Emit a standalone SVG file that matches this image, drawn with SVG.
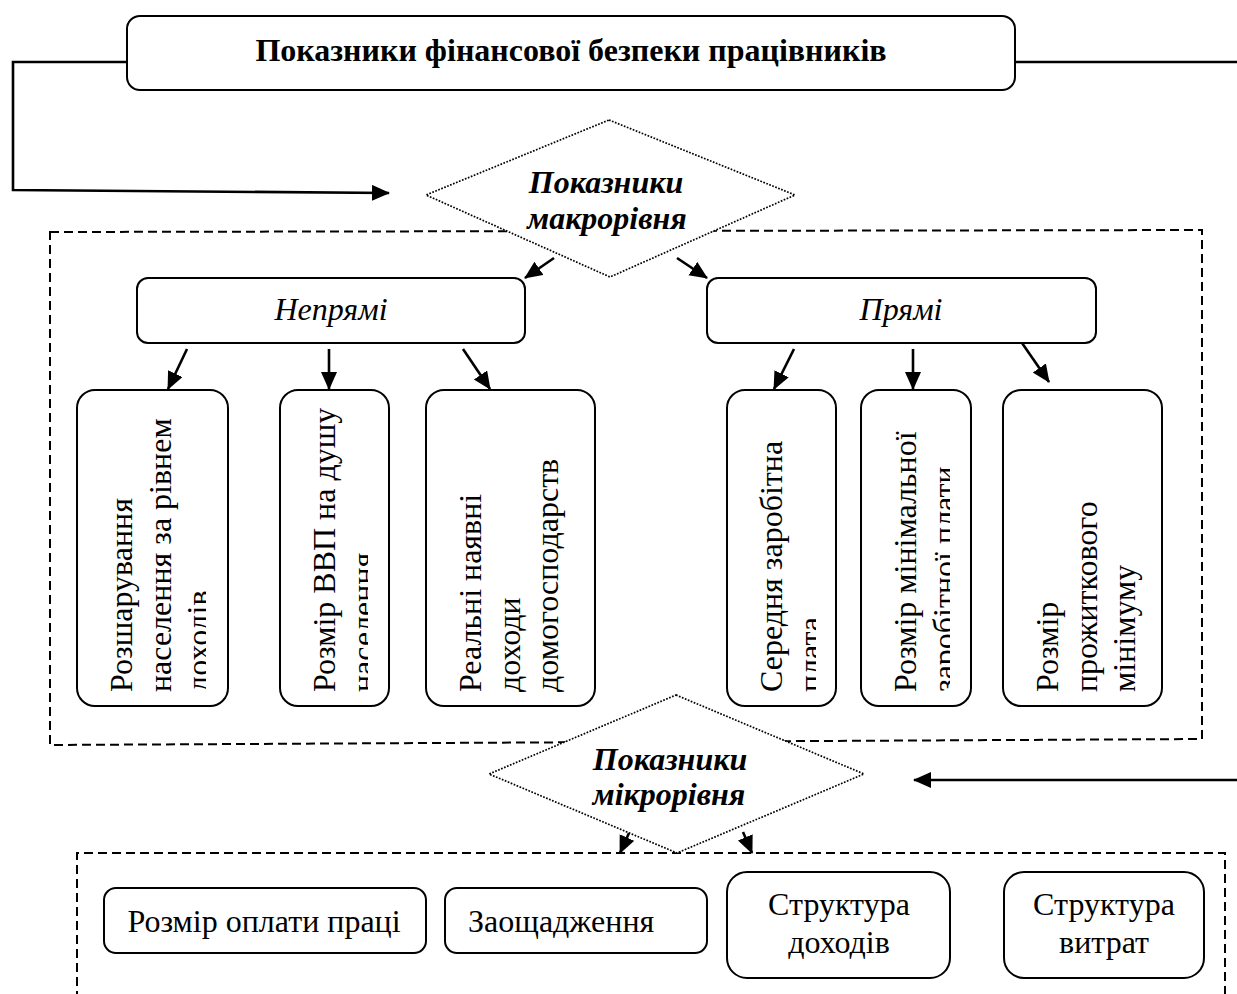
<svg xmlns="http://www.w3.org/2000/svg" width="1237" height="994" viewBox="0 0 1237 994">
  <style>
    text { font-family: "Liberation Serif", "Times New Roman", serif; font-size: 32px; fill: #000; }
    .title { font-weight: bold; }
    .diam-t { font-weight: bold; font-style: italic; }
    .ital { font-style: italic; }
    .box { fill: #fff; stroke: #000; stroke-width: 2; }
    .diamond { fill: #fff; stroke: #000; stroke-width: 1.7; stroke-dasharray: 1.7 1.5; }
    .frame { fill: none; stroke: #000; stroke-width: 2; stroke-dasharray: 9 5; }
    .link { fill: none; stroke: #000; stroke-width: 2.5; }
    .arrow { fill: none; stroke: #000; stroke-width: 2.6; marker-end: url(#head); }
  </style>
  <defs>
    <marker id="head" markerUnits="userSpaceOnUse" markerWidth="20" markerHeight="18" refX="17" refY="8" orient="auto">
      <path d="M0,0 L18,8 L0,16 Z" fill="#000"/>
    </marker>
    <clipPath id="clip1" clipPathUnits="userSpaceOnUse"><rect x="77" y="390" width="129" height="316"/></clipPath>
    <clipPath id="clip2" clipPathUnits="userSpaceOnUse"><rect x="280" y="390" width="88" height="316"/></clipPath>
    <clipPath id="clip4" clipPathUnits="userSpaceOnUse"><rect x="727" y="390" width="89" height="316"/></clipPath>
    <clipPath id="clip5" clipPathUnits="userSpaceOnUse"><rect x="861" y="390" width="89" height="316"/></clipPath>
  </defs>

  <rect x="0" y="0" width="1237" height="994" fill="#fff"/>

  <!-- dashed frames around the macro and micro groups -->
  <g id="frames">
    <path class="frame" d="M50,232 L1202,230 L1202,739 L50,745 Z"/>
    <path class="frame" d="M77,1000 L77,853 L1225,853 L1225,1000"/>
  </g>

  <!-- title -->
  <g id="title">
    <rect class="box" x="127" y="16" width="888" height="74" rx="13"/>
    <text class="title" x="571" y="61" text-anchor="middle">Показники фінансової безпеки працівників</text>
  </g>

  <!-- decision diamonds -->
  <g id="macro">
    <polygon class="diamond" points="609,120 795,195 610,277 426,195"/>
    <text class="diam-t" x="606" y="193" text-anchor="middle">Показники</text>
    <text class="diam-t" x="607" y="229" text-anchor="middle">макрорівня</text>
  </g>
  <g id="micro">
    <polygon class="diamond" points="676,695 864,774 677,853 489,774"/>
    <text class="diam-t" x="670" y="770" text-anchor="middle">Показники</text>
    <text class="diam-t" x="669" y="805" text-anchor="middle">мікрорівня</text>
  </g>

  <!-- indirect / direct -->
  <g id="indirect">
    <rect class="box" x="137" y="278" width="388" height="65" rx="11"/>
    <text class="ital" x="331" y="320" text-anchor="middle">Непрямі</text>
  </g>
  <g id="direct">
    <rect class="box" x="707" y="278" width="389" height="65" rx="11"/>
    <text class="ital" x="901" y="320" text-anchor="middle">Прямі</text>
  </g>

  <!-- macro-level indicators, vertical text -->
  <g id="stratification">
    <rect class="box" x="77" y="390" width="151" height="316" rx="18"/>
    <g clip-path="url(#clip1)">
      <text transform="translate(132,692) rotate(-90)">Розшарування</text>
      <text transform="translate(170.5,692) rotate(-90)">населення за рівнем</text>
      <text transform="translate(209,692) rotate(-90)">доходів</text>
    </g>
  </g>
  <g id="gdp">
    <rect class="box" x="280" y="390" width="109" height="316" rx="18"/>
    <g clip-path="url(#clip2)">
      <text transform="translate(335,692) rotate(-90)">Розмір ВВП на душу</text>
      <text transform="translate(373.5,692) rotate(-90)">населення</text>
    </g>
  </g>
  <g id="household">
    <rect class="box" x="426" y="390" width="169" height="316" rx="18"/>
    <text transform="translate(481,692) rotate(-90)">Реальні наявні</text>
    <text transform="translate(519.5,692) rotate(-90)">доходи</text>
    <text transform="translate(558,692) rotate(-90)">домогосподарств</text>
  </g>
  <g id="avg-wage">
    <rect class="box" x="727" y="390" width="109" height="316" rx="18"/>
    <g clip-path="url(#clip4)">
      <text transform="translate(782,692) rotate(-90)">Середня заробітна</text>
      <text transform="translate(820.5,692) rotate(-90)">плата</text>
    </g>
  </g>
  <g id="min-wage">
    <rect class="box" x="861" y="390" width="110" height="316" rx="18"/>
    <g clip-path="url(#clip5)">
      <text transform="translate(916,692) rotate(-90)">Розмір мінімальної</text>
      <text transform="translate(954.5,692) rotate(-90)">заробітної плати</text>
    </g>
  </g>
  <g id="subsistence">
    <rect class="box" x="1003" y="390" width="159" height="316" rx="18"/>
    <text transform="translate(1058,692) rotate(-90)">Розмір</text>
    <text transform="translate(1096.5,692) rotate(-90)">прожиткового</text>
    <text transform="translate(1135,692) rotate(-90)">мінімуму</text>
  </g>

  <!-- micro-level indicators -->
  <g id="pay">
    <rect class="box" x="104" y="888" width="322" height="65" rx="12"/>
    <text x="264" y="932" text-anchor="middle">Розмір оплати праці</text>
  </g>
  <g id="savings">
    <rect class="box" x="445" y="888" width="262" height="65" rx="12"/>
    <text x="468" y="932">Заощадження</text>
  </g>
  <g id="income">
    <rect class="box" x="727" y="872" width="223" height="106" rx="20"/>
    <text x="839" y="915" text-anchor="middle">Структура</text>
    <text x="839" y="953" text-anchor="middle">доходів</text>
  </g>
  <g id="expenses">
    <rect class="box" x="1004" y="872" width="200" height="106" rx="20"/>
    <text x="1104" y="915" text-anchor="middle">Структура</text>
    <text x="1104" y="953" text-anchor="middle">витрат</text>
  </g>

  <!-- connectors -->
  <g id="connectors">
    <path class="arrow" d="M127,62 H13 V190 L389,193"/>
    <path class="link" d="M1015,62 H1240"/>
    <path class="arrow" d="M1240,780 H914"/>
    <path class="arrow" d="M554,258 L525,278"/>
    <path class="arrow" d="M677,258 L707,278"/>
    <path class="arrow" d="M187,349 L168,389"/>
    <path class="arrow" d="M329,349 L329,389"/>
    <path class="arrow" d="M463,349 L490,389"/>
    <path class="arrow" d="M794,349 L774,389"/>
    <path class="arrow" d="M913,349 L913,389"/>
    <path class="arrow" d="M1022,343 L1049,382"/>
    <path class="arrow" d="M629,833 L620,853"/>
    <path class="arrow" d="M743,832 L752,853"/>
  </g>
</svg>
